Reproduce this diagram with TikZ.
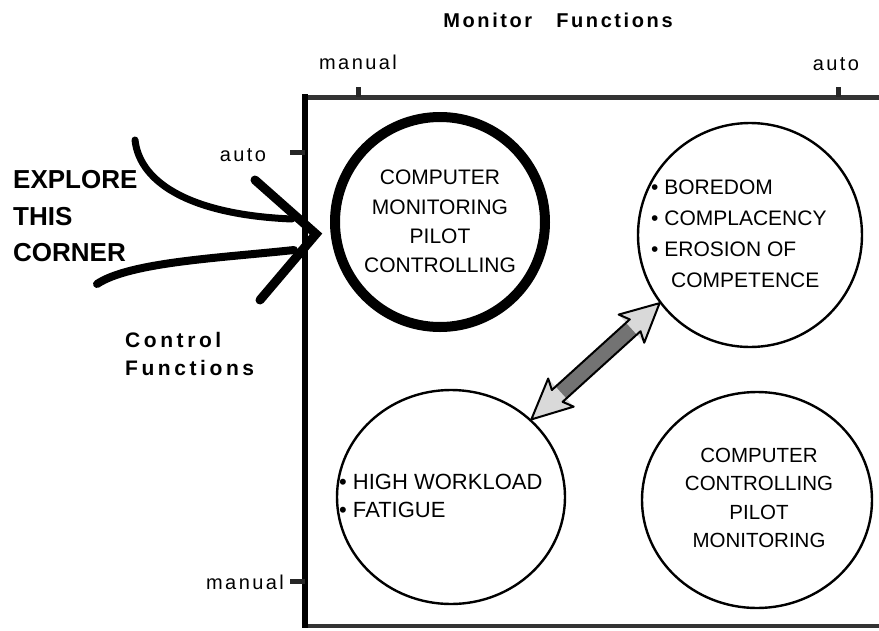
\documentclass[tikz,border=0pt]{standalone}
\usepackage{fontspec}
\setmainfont{Liberation Sans}
\newfontfamily\trackedfont[LetterSpace=12]{Liberation Sans}
\newfontfamily\headfont[LetterSpace=13]{Liberation Sans}
\newfontfamily\sidefont[LetterSpace=17]{Liberation Sans}
\usetikzlibrary{shapes.geometric,calc}

\tikzset{
  bubble/.style={circle, draw, line width=2.4pt, inner sep=0pt},
  oval/.style={ellipse, draw, line width=2.4pt, inner sep=0pt},
  framemark/.style={line width=5pt, black!85},
  penline/.style={line cap=round, black},
  circtext/.style={font=\fontsize{21}{29.3}\selectfont, align=center, inner sep=0pt},
  listtext/.style={font=\fontsize{21}{31}\selectfont, align=left, anchor=west, inner sep=0pt},
  axislabel/.style={font=\trackedfont\fontsize{20}{24}\selectfont, inner sep=0pt},
  heading/.style={font=\headfont\bfseries\fontsize{20}{28}\selectfont, inner sep=0pt},
  sideheading/.style={font=\sidefont\bfseries\fontsize{21}{28}\selectfont, inner sep=0pt},
}

\begin{document}
\begin{tikzpicture}[x=1pt,y=-1pt]
\useasboundingbox (0,0) rectangle (879,630);

% frame of the function space
\draw[line width=5pt, black!80] (303,97) -- (879,97);
\draw[line width=4pt, black!80] (303,626) -- (879,626);
\draw[line width=6pt] (305,94) -- (305,628);

% axis marks
\draw[framemark] (358,87) -- (358,97);
\draw[framemark] (838,87) -- (838,97);
\draw[framemark] (290,152) -- (305,152);
\draw[framemark] (290,581) -- (305,581);

% axis labels
\node[heading] (mf) at (558,20) {Monitor\hspace{24pt}Functions};
\node[axislabel] (mm) at (358,62) {manual};
\node[axislabel] (ma) at (836,64) {auto};
\node[axislabel] (ca) at (243,155) {auto};
\node[axislabel, anchor=east] (cm) at (284,582) {manual};
\node[sideheading, align=left, anchor=west] (cf) at (125,354) {Control\\Functions};
\node[font=\bfseries\fontsize{26}{36.5}\selectfont, align=left, anchor=west, inner sep=0pt] (ex) at (13,216.5) {EXPLORE\\THIS\\CORNER};

% the four quadrants
\node[bubble, line width=10pt, minimum size=210pt] (c1) at (440,222) {};
\node[bubble, minimum size=224pt] (c2) at (750,235) {};
\node[oval, minimum width=228pt, minimum height=214pt] (c3) at (451,497) {};
\node[oval, minimum width=230pt, minimum height=216pt] (c4) at (757,500) {};

\node[circtext] (t1) at (440,221.5) {COMPUTER\\MONITORING\\PILOT\\CONTROLLING};
\node[listtext] (t2) at (651,233.5) {• BOREDOM\\• COMPLACENCY\\• EROSION OF\\\hspace*{20pt}COMPETENCE};
\node[listtext, font=\fontsize{22}{28}\selectfont] (t3) at (339,496) {• HIGH WORKLOAD\\• FATIGUE};
\node[circtext, font=\fontsize{20.5}{28.5}\selectfont] (t4) at (759,498) {COMPUTER\\CONTROLLING\\PILOT\\MONITORING};

% hand-drawn pointer to the corner
\coordinate (tip) at (316,234);
\draw[penline, line width=7pt] (135,140) .. controls (140,185) and (195,215) .. (292,219);
\draw[penline, line width=8pt] (97,284) .. controls (130,262) and (220,258) .. (294,250);
\draw[penline, line width=9pt, line join=miter] (255,180) -- (tip) -- (260,300);

% double arrow between the two problem quadrants
\coordinate (ta) at (c3.44);
\coordinate (tb) at (c2.217);
\coordinate (wa) at ($(ta)!40pt!(tb)$);
\coordinate (ja) at ($(ta)!35pt!(tb)$);
\coordinate (wb) at ($(tb)!38pt!(ta)$);
\coordinate (jb) at ($(tb)!33pt!(ta)$);
\path[fill=black!55]
  (ta) -- ($(wa)!19pt!90:(tb)$) -- ($(ja)!8pt!90:(tb)$) -- ($(jb)!8pt!-90:(ta)$)
  -- ($(wb)!19pt!-90:(ta)$) -- (tb) -- ($(wb)!19pt!90:(ta)$) -- ($(jb)!8pt!90:(ta)$)
  -- ($(ja)!8pt!-90:(tb)$) -- ($(wa)!19pt!-90:(tb)$) -- cycle;
\fill[black!15] (ta) -- ($(wa)!19pt!90:(tb)$) -- ($(wa)!19pt!-90:(tb)$) -- cycle;
\fill[black!15] (tb) -- ($(wb)!19pt!90:(ta)$) -- ($(wb)!19pt!-90:(ta)$) -- cycle;
\draw[line width=2pt, line join=round]
  (ta) -- ($(wa)!19pt!90:(tb)$) -- ($(ja)!8pt!90:(tb)$) -- ($(jb)!8pt!-90:(ta)$)
  -- ($(wb)!19pt!-90:(ta)$) -- (tb) -- ($(wb)!19pt!90:(ta)$) -- ($(jb)!8pt!90:(ta)$)
  -- ($(ja)!8pt!-90:(tb)$) -- ($(wa)!19pt!-90:(tb)$) -- cycle;
\end{tikzpicture}
\end{document}
